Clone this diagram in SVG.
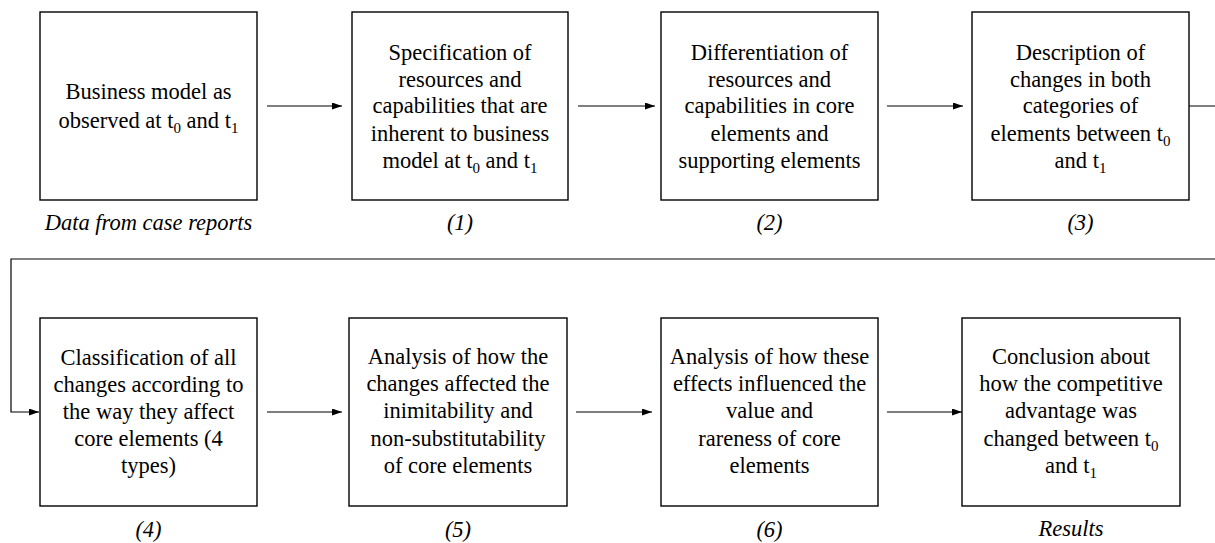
<svg xmlns="http://www.w3.org/2000/svg" width="1215" height="543" viewBox="0 0 1215 543">
<style>
.box{fill:#fff;stroke:#000;stroke-width:1.4}
.t{font-family:"Liberation Serif","Times New Roman",serif;font-size:22.5px;fill:#000;text-anchor:middle}
.lab{font-family:"Liberation Serif","Times New Roman",serif;font-size:22.5px;font-style:italic;fill:#000;text-anchor:middle}
.sub{font-size:15px}
.c{fill:none;stroke:#000;stroke-width:1.2}
</style>
<defs>
<marker id="ah" markerUnits="userSpaceOnUse" markerWidth="10" markerHeight="8" refX="10" refY="3.5" orient="auto">
<path d="M0,0 L10,3.5 L0,7 z" fill="#000"/>
</marker>
</defs>
<rect width="1215" height="543" fill="#fff"/>
<g id="connectors">
<path class="c" d="M267,106 H342" marker-end="url(#ah)"/>
<path class="c" d="M578,106 H655" marker-end="url(#ah)"/>
<path class="c" d="M887,106 H963" marker-end="url(#ah)"/>
<path class="c" d="M1189,106 H1217 V259 H11 V412 H39" marker-end="url(#ah)"/>
<path class="c" d="M267,412 H342" marker-end="url(#ah)"/>
<path class="c" d="M576,412 H652" marker-end="url(#ah)"/>
<path class="c" d="M887,412 H962" marker-end="url(#ah)"/>
</g>
<g id="n0">
<rect class="box" x="40" y="12" width="217" height="188"/>
<text class="t" x="148.5" y="99">Business model as</text>
<text class="t" x="148.5" y="128">observed at t<tspan class="sub" dy="5">0</tspan><tspan dy="-5"> and t</tspan><tspan class="sub" dy="5">1</tspan></text>
<text class="lab" x="148.5" y="230">Data from case reports</text>
</g>
<g id="n1">
<rect class="box" x="352" y="12" width="216" height="188"/>
<text class="t" x="460" y="60">Specification of</text>
<text class="t" x="460" y="87">resources and</text>
<text class="t" x="460" y="113">capabilities that are</text>
<text class="t" x="460" y="141">inherent to business</text>
<text class="t" x="460" y="168">model at t<tspan class="sub" dy="5">0</tspan><tspan dy="-5"> and t</tspan><tspan class="sub" dy="5">1</tspan></text>
<text class="lab" x="460" y="230">(1)</text>
</g>
<g id="n2">
<rect class="box" x="661" y="12" width="217" height="188"/>
<text class="t" x="769.5" y="60">Differentiation of</text>
<text class="t" x="769.5" y="87">resources and</text>
<text class="t" x="769.5" y="113">capabilities in core</text>
<text class="t" x="769.5" y="141">elements and</text>
<text class="t" x="769.5" y="168">supporting elements</text>
<text class="lab" x="769.5" y="230">(2)</text>
</g>
<g id="n3">
<rect class="box" x="972" y="12" width="217" height="188"/>
<text class="t" x="1080.5" y="60">Description of</text>
<text class="t" x="1080.5" y="87">changes in both</text>
<text class="t" x="1080.5" y="113">categories of</text>
<text class="t" x="1080.5" y="141">elements between t<tspan class="sub" dy="5">0</tspan></text>
<text class="t" x="1080.5" y="168">and t<tspan class="sub" dy="5">1</tspan></text>
<text class="lab" x="1080.5" y="230">(3)</text>
</g>
<g id="n4">
<rect class="box" x="40" y="318" width="217" height="188"/>
<text class="t" x="148.5" y="365">Classification of all</text>
<text class="t" x="148.5" y="392">changes according to</text>
<text class="t" x="148.5" y="419">the way they affect</text>
<text class="t" x="148.5" y="446">core elements (4</text>
<text class="t" x="148.5" y="473">types)</text>
<text class="lab" x="148.5" y="537">(4)</text>
</g>
<g id="n5">
<rect class="box" x="349" y="318" width="218" height="188"/>
<text class="t" x="458" y="364">Analysis of how the</text>
<text class="t" x="458" y="391">changes affected the</text>
<text class="t" x="458" y="418">inimitability and</text>
<text class="t" x="458" y="446">non-substitutability</text>
<text class="t" x="458" y="473">of core elements</text>
<text class="lab" x="458" y="537">(5)</text>
</g>
<g id="n6">
<rect class="box" x="661" y="318" width="217" height="188"/>
<text class="t" x="769.5" y="364">Analysis of how these</text>
<text class="t" x="769.5" y="391">effects influenced the</text>
<text class="t" x="769.5" y="418">value and</text>
<text class="t" x="769.5" y="446">rareness of core</text>
<text class="t" x="769.5" y="473">elements</text>
<text class="lab" x="769.5" y="537">(6)</text>
</g>
<g id="n7">
<rect class="box" x="962" y="318" width="218" height="188"/>
<text class="t" x="1071" y="364">Conclusion about</text>
<text class="t" x="1071" y="391">how the competitive</text>
<text class="t" x="1071" y="418">advantage was</text>
<text class="t" x="1071" y="446">changed between t<tspan class="sub" dy="5">0</tspan></text>
<text class="t" x="1071" y="473">and t<tspan class="sub" dy="5">1</tspan></text>
<text class="lab" x="1071" y="536">Results</text>
</g>
</svg>
